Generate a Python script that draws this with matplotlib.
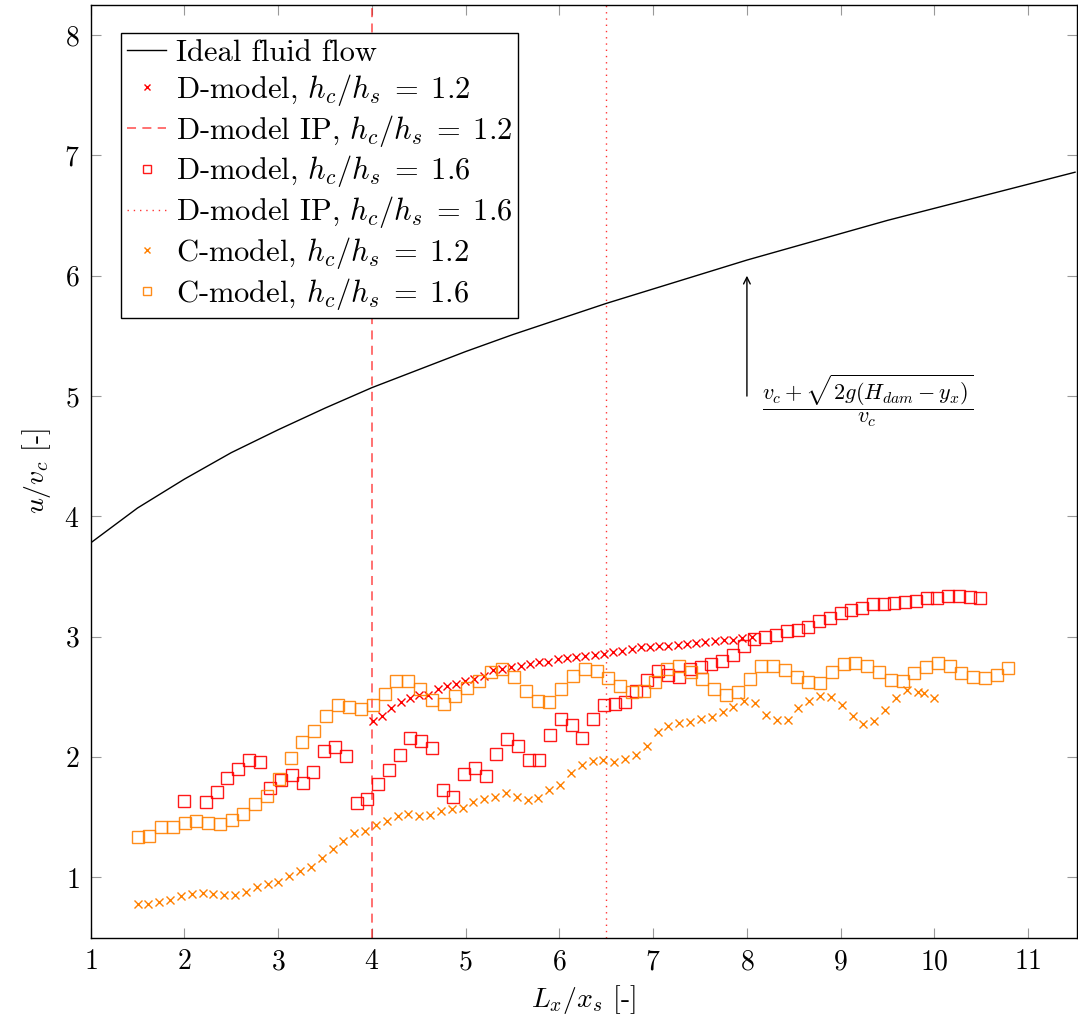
import numpy as np
import matplotlib
matplotlib.use('Agg')
import matplotlib.pyplot as plt

plt.rcParams['font.family'] = 'serif'
plt.rcParams['font.serif'] = ['cmr10']
plt.rcParams['mathtext.fontset'] = 'cm'
plt.rcParams['axes.unicode_minus'] = False
plt.rcParams['axes.formatter.use_mathtext'] = True

RED = (1.0, 0.0, 0.0)
ORANGE = (1.0, 0.5, 0.0)

# ideal fluid flow curve
ideal_x = [1.0, 1.5, 2.0, 2.5, 3.0, 3.5, 4.0, 4.5, 5.0, 5.5, 6.0, 6.5,
           7.0, 7.5, 8.0, 8.5, 9.0, 9.5, 10.0, 10.5, 11.0, 11.5]
ideal_y = [3.78, 4.07, 4.31, 4.53, 4.72, 4.90, 5.07, 5.22, 5.37, 5.51, 5.64, 5.77,
           5.89, 6.01, 6.13, 6.24, 6.35, 6.46, 6.56, 6.66, 6.76, 6.86]

# D-model, hc/hs = 1.2
d12_x = np.linspace(4.01, 8.05, 42)
d12_y = [2.30, 2.345, 2.41, 2.46, 2.49, 2.517, 2.515, 2.567, 2.594, 2.608,
         2.636, 2.65, 2.677, 2.72, 2.733, 2.747, 2.76, 2.775, 2.788, 2.79,
         2.816, 2.824, 2.83, 2.838, 2.845, 2.858, 2.87, 2.88, 2.90, 2.913,
         2.915, 2.92, 2.927, 2.933, 2.94, 2.946, 2.954, 2.965, 2.97, 2.977,
         2.988, 2.996]

# D-model, hc/hs = 1.6
d16_x = np.linspace(2.0, 10.49, 75)
d16_y = [1.632, np.nan, 1.63, 1.713, 1.83, 1.90, 1.98, 1.956, 1.74, 1.81,
         1.85, 1.785, 1.876, 2.05, 2.087, 2.01, 1.62, 1.652, 1.777, 1.896,
         2.02, 2.16, 2.13, 2.076, 1.73, 1.665, 1.86, 1.906, 1.846, 2.03,
         2.15, 2.09, 1.98, 1.98, 2.18, 2.317, 2.267, 2.156, 2.32, 2.43,
         2.44, 2.455, 2.547, 2.64, 2.713, 2.686, 2.663, 2.733, 2.747, 2.77,
         2.80, 2.85, 2.927, 2.98, 2.996, 3.016, 3.046, 3.06, 3.08, 3.13,
         3.16, 3.20, 3.22, 3.24, 3.27, 3.27, 3.28, 3.287, 3.295, 3.32,
         3.32, 3.337, 3.337, 3.33, 3.32]

# C-model, hc/hs = 1.2
c12_x = np.concatenate([np.linspace(1.5, 9.82, 73), [9.89, 10.0]])
c12_y = [0.78, 0.78, 0.80, 0.81, 0.85, 0.86, 0.875, 0.865, 0.855, 0.855,
         0.88, 0.92, 0.95, 0.96, 1.01, 1.05, 1.09, 1.16, 1.24, 1.30,
         1.37, 1.39, 1.44, 1.47, 1.51, 1.53, 1.513, 1.519, 1.549, 1.569,
         1.577, 1.624, 1.652, 1.671, 1.70, 1.671, 1.644, 1.66, 1.727, 1.77,
         1.865, 1.937, 1.97, 1.978, 1.962, 1.985, 2.018, 2.09, 2.21, 2.26,
         2.28, 2.295, 2.317, 2.336, 2.372, 2.42, 2.467, 2.45, 2.353, 2.31,
         2.31, 2.405, 2.47, 2.505, 2.503, 2.436, 2.34, 2.276, 2.30, 2.39,
         2.49, 2.56, 2.54, 2.53, 2.49]

# C-model, hc/hs = 1.6
c16_x = np.linspace(1.5, 10.79, 75)
c16_y = [1.333, 1.347, 1.416, 1.42, 1.452, 1.47, 1.452, 1.444, 1.48, 1.527,
         1.61, 1.68, 1.818, 1.99, 2.123, 2.22, 2.34, 2.436, 2.414, 2.40,
         2.43, 2.525, 2.63, 2.63, 2.567, 2.478, 2.44, 2.51, 2.572, 2.63,
         2.705, 2.733, 2.67, 2.547, 2.47, 2.455, 2.567, 2.677, 2.733, 2.713,
         2.658, 2.594, 2.539, 2.553, 2.628, 2.733, 2.755, 2.705, 2.65, 2.567,
         2.517, 2.539, 2.65, 2.755, 2.755, 2.72, 2.67, 2.627, 2.617, 2.705,
         2.775, 2.78, 2.76, 2.705, 2.64, 2.636, 2.70, 2.752, 2.78, 2.76,
         2.70, 2.663, 2.658, 2.686, 2.742]

# inflection points
ip12_x = 4.0
ip16_x = 6.5

fig = plt.figure(figsize=(10.78, 10.25), dpi=100)
ax = fig.add_axes([0.0841, 0.0852, 0.9149, 0.910])

ax.plot(ideal_x, ideal_y, color='black', lw=1.0, label='Ideal fluid flow')
ax.plot(d12_x, d12_y, ls='none', marker='x', ms=5.5, mew=1.0, color=RED,
        label=r'D-model, $h_c/h_s\;=\;1.2$')
ax.axvline(ip12_x, color=RED, alpha=0.6, lw=1.3, ls=(0, (5, 3.5)),
           label=r'D-model IP, $h_c/h_s\;=\;1.2$')
ax.plot(d16_x, d16_y, ls='none', marker='s', ms=8, mew=1.0, mfc='none', mec=RED,
        alpha=0.9, label=r'D-model, $h_c/h_s\;=\;1.6$')
ax.axvline(ip16_x, color=RED, alpha=0.8, lw=1.0, ls=(0, (1, 3.5)),
           label=r'D-model IP, $h_c/h_s\;=\;1.6$')
ax.plot(c12_x, c12_y, ls='none', marker='x', ms=5.5, mew=1.0, color=ORANGE,
        label=r'C-model, $h_c/h_s\;=\;1.2$')
ax.plot(c16_x, c16_y, ls='none', marker='s', ms=8, mew=1.0, mfc='none', mec=ORANGE,
        alpha=0.9, label=r'C-model, $h_c/h_s\;=\;1.6$')

ax.annotate('', xy=(8.0, 6.0), xytext=(8.0, 5.0),
            arrowprops=dict(arrowstyle='->', lw=1.0, color='black',
                            shrinkA=0, shrinkB=0, mutation_scale=12))
ax.text(8.16, 4.96, r'$\dfrac{v_c+\sqrt{2g(H_{dam}-y_x)}}{v_c}$', fontsize=16,
        ha='left', va='center')

ax.set_xlim(1, 11.52)
ax.set_ylim(0.5, 8.25)
ax.set_xticks(range(1, 12))
ax.set_yticks(range(1, 9))
ax.tick_params(direction='in', length=7, width=0.8, color='#999999',
               top=True, right=True, labelsize=20, pad=8)
for sp in ax.spines.values():
    sp.set_linewidth(1.0)

ax.set_xlabel(r'$L_x/x_s$ [-]', fontsize=20, labelpad=6)
ax.set_ylabel(r'$u/v_c$ [-]', fontsize=20, labelpad=8)

leg = ax.legend(loc='upper left', bbox_to_anchor=(0.0304, 0.9697), fontsize=22,
                frameon=True, fancybox=False, edgecolor='black', framealpha=1,
                handlelength=1.3, handletextpad=0.3, labelspacing=0.16,
                borderpad=0.2, borderaxespad=0, markerscale=0.7)
leg.get_frame().set_linewidth(1.0)

fig.savefig('out.png', dpi=100)
